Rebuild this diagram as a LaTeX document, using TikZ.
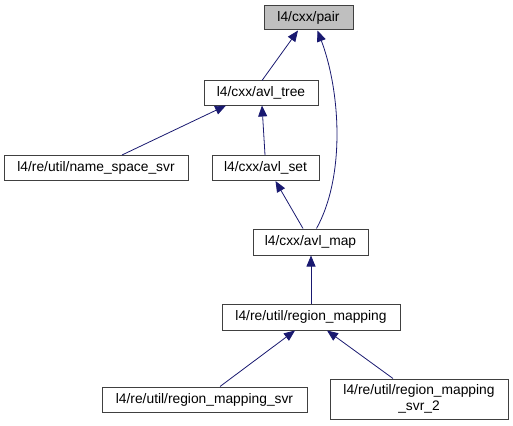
\documentclass[tikz,border=0pt]{standalone}
\usepackage{fontspec}
\setmainfont{Liberation Sans}
\usetikzlibrary{arrows.meta}
\definecolor{edgeblue}{HTML}{191970}
\definecolor{rootgray}{HTML}{BFBFBF}
\definecolor{boxline}{HTML}{404040}
\tikzset{
  box/.style={draw=boxline, line width=1pt, fill=white, inner sep=0pt, align=center,
    font=\fontsize{13.8}{16}\selectfont},
  rootbox/.style={box, fill=rootgray},
  edge/.style={draw=edgeblue, line width=0.8pt, -{Triangle[length=11pt,width=9pt]}},
}
\begin{document}
\begin{tikzpicture}[x=1pt,y=-1pt]
\useasboundingbox (0,0) rectangle (513,425);
\node[rootbox, minimum width=89pt, minimum height=24pt] (pair) at (308.5,18) {l4/cxx/pair};
\node[box, minimum width=114pt, minimum height=24pt] (tree) at (261,93) {l4/cxx/avl\_tree};
\node[box, minimum width=184pt, minimum height=25pt] (nss) at (96,168) {l4/re/util/name\_space\_svr};
\node[box, minimum width=107pt, minimum height=25pt] (set) at (265.5,168) {l4/cxx/avl\_set};
\node[box, minimum width=115pt, minimum height=26pt] (map) at (310.5,242) {l4/cxx/avl\_map};
\node[box, minimum width=178pt, minimum height=26pt] (rm) at (311,317) {l4/re/util/region\_mapping};
\node[box, minimum width=205pt, minimum height=25pt] (rms) at (204.5,399.5) {l4/re/util/region\_mapping\_svr};
\node[box, minimum width=178pt, minimum height=40pt] (rms2) at (419,399) {l4/re/util/region\_mapping\\\_svr\_2};

\draw[edge] ([xshift=1pt]tree.north) -- ([xshift=-10.5pt]pair.south);
\draw[edge] ([xshift=6pt]map.north) .. controls (346,175) and (340,90) .. ([xshift=9pt]pair.south);
\draw[edge] ([xshift=26pt]nss.north) -- ([xshift=-35pt]tree.south);
\draw[edge] ([xshift=-0.5pt]set.north) -- ([xshift=1pt]tree.south);
\draw[edge] ([xshift=-7.5pt]map.north) -- ([xshift=10pt]set.south);
\draw[edge] (rm.north) -- (rm.north |- map.south);
\draw[edge] ([xshift=15.5pt]rms.north) -- ([xshift=-16pt]rm.south);
\draw[edge] ([xshift=-26pt]rms2.north) -- ([xshift=16pt]rm.south);
\end{tikzpicture}
\end{document}
